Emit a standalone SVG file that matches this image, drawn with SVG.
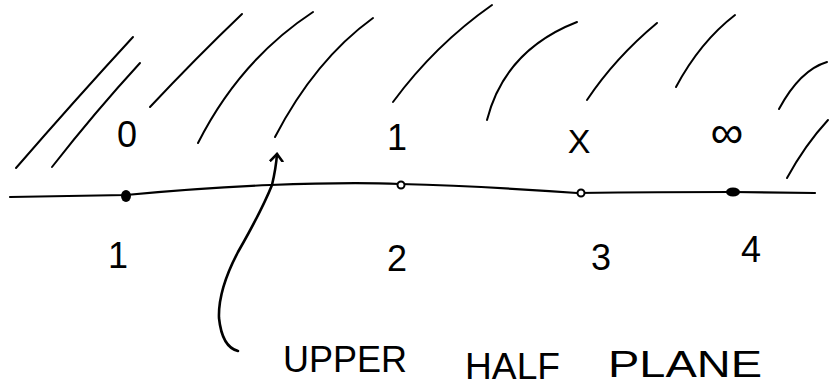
<svg xmlns="http://www.w3.org/2000/svg" width="840" height="387" viewBox="0 0 840 387">
<defs>
<style>
.h{fill:none;stroke:#000;stroke-width:2;stroke-linecap:round}
.ax{fill:none;stroke:#000;stroke-width:2.2;stroke-linecap:round}
.t{font-family:"Liberation Sans",Arial,sans-serif;fill:#000;text-anchor:middle}
.lbl{font-size:36px}
.cap{font-family:"Liberation Sans",Arial,sans-serif;font-size:37px;fill:#000}
.c{fill:none;stroke:#000;stroke-width:2.6;stroke-linecap:round;stroke-linejoin:round}
</style>
<marker id="ah" markerWidth="16" markerHeight="16" refX="8" refY="8" orient="auto" markerUnits="userSpaceOnUse">
<path d="M1,2 L8,8 L1,14" fill="none" stroke="#000" stroke-width="2.6" stroke-linecap="round"/>
</marker>
</defs>
<rect width="840" height="387" fill="#fff"/>
<g id="hatching">
<path class="h" d="M16,168 Q75,100 133,37"/>
<path class="h" d="M52,167 Q95,112 140,63"/>
<path class="h" d="M150,107 Q196,58 242,14"/>
<path class="h" d="M198,143 Q240,60 313,12"/>
<path class="h" d="M275,137 Q315,60 373,18"/>
<path class="h" d="M393,102 Q435,45 492,5"/>
<path class="h" d="M487,120 Q505,50 577,22"/>
<path class="h" d="M587,100 Q615,58 657,23"/>
<path class="h" d="M676,87 Q700,42 735,15"/>
<path class="h" d="M779,109 Q800,70 827,62"/>
<path class="h" d="M787,178 Q805,145 828,120"/>
</g>
<g id="axis">
<path class="ax" d="M10,197 L126,195 Q200,188 270,185 Q350,182 400,184 Q480,186 577,193 Q660,192 733,192 L815,193"/>
</g>
<g id="p1">
<ellipse cx="126" cy="196" rx="5" ry="6" fill="#000"/>
<text class="t lbl" x="127" y="147">0</text>
<text class="t lbl" x="118" y="268">1</text>
</g>
<g id="p2">
<circle cx="401" cy="185" r="3.5" fill="#fff" stroke="#000" stroke-width="2"/>
<text class="t lbl" x="397" y="150">1</text>
<text class="t lbl" x="397" y="271">2</text>
</g>
<g id="p3">
<circle cx="581" cy="193" r="3.5" fill="#fff" stroke="#000" stroke-width="2"/>
<text class="t" style="font-size:34px" x="579" y="153">X</text>
<text class="t lbl" x="601" y="270">3</text>
</g>
<g id="p4">
<ellipse cx="733" cy="192" rx="7" ry="4.5" fill="#000"/>
<text class="t" style="font-size:46px" x="727" y="148">∞</text>
<text class="t lbl" x="751" y="262">4</text>
</g>
<g id="connectors">
<path class="c" marker-end="url(#ah)" d="M238,351 Q222,347 219,318 Q218,290 238,252 Q262,210 272,185 Q276,168 277,154"/>
</g>
<g id="caption">
<text class="cap" x="283" y="372" textLength="124" lengthAdjust="spacingAndGlyphs">UPPER</text>
<text class="cap" x="465" y="379" textLength="95" lengthAdjust="spacingAndGlyphs">HALF</text>
<text class="cap" x="608" y="377" textLength="154" lengthAdjust="spacingAndGlyphs">PLANE</text>
</g>
</svg>
